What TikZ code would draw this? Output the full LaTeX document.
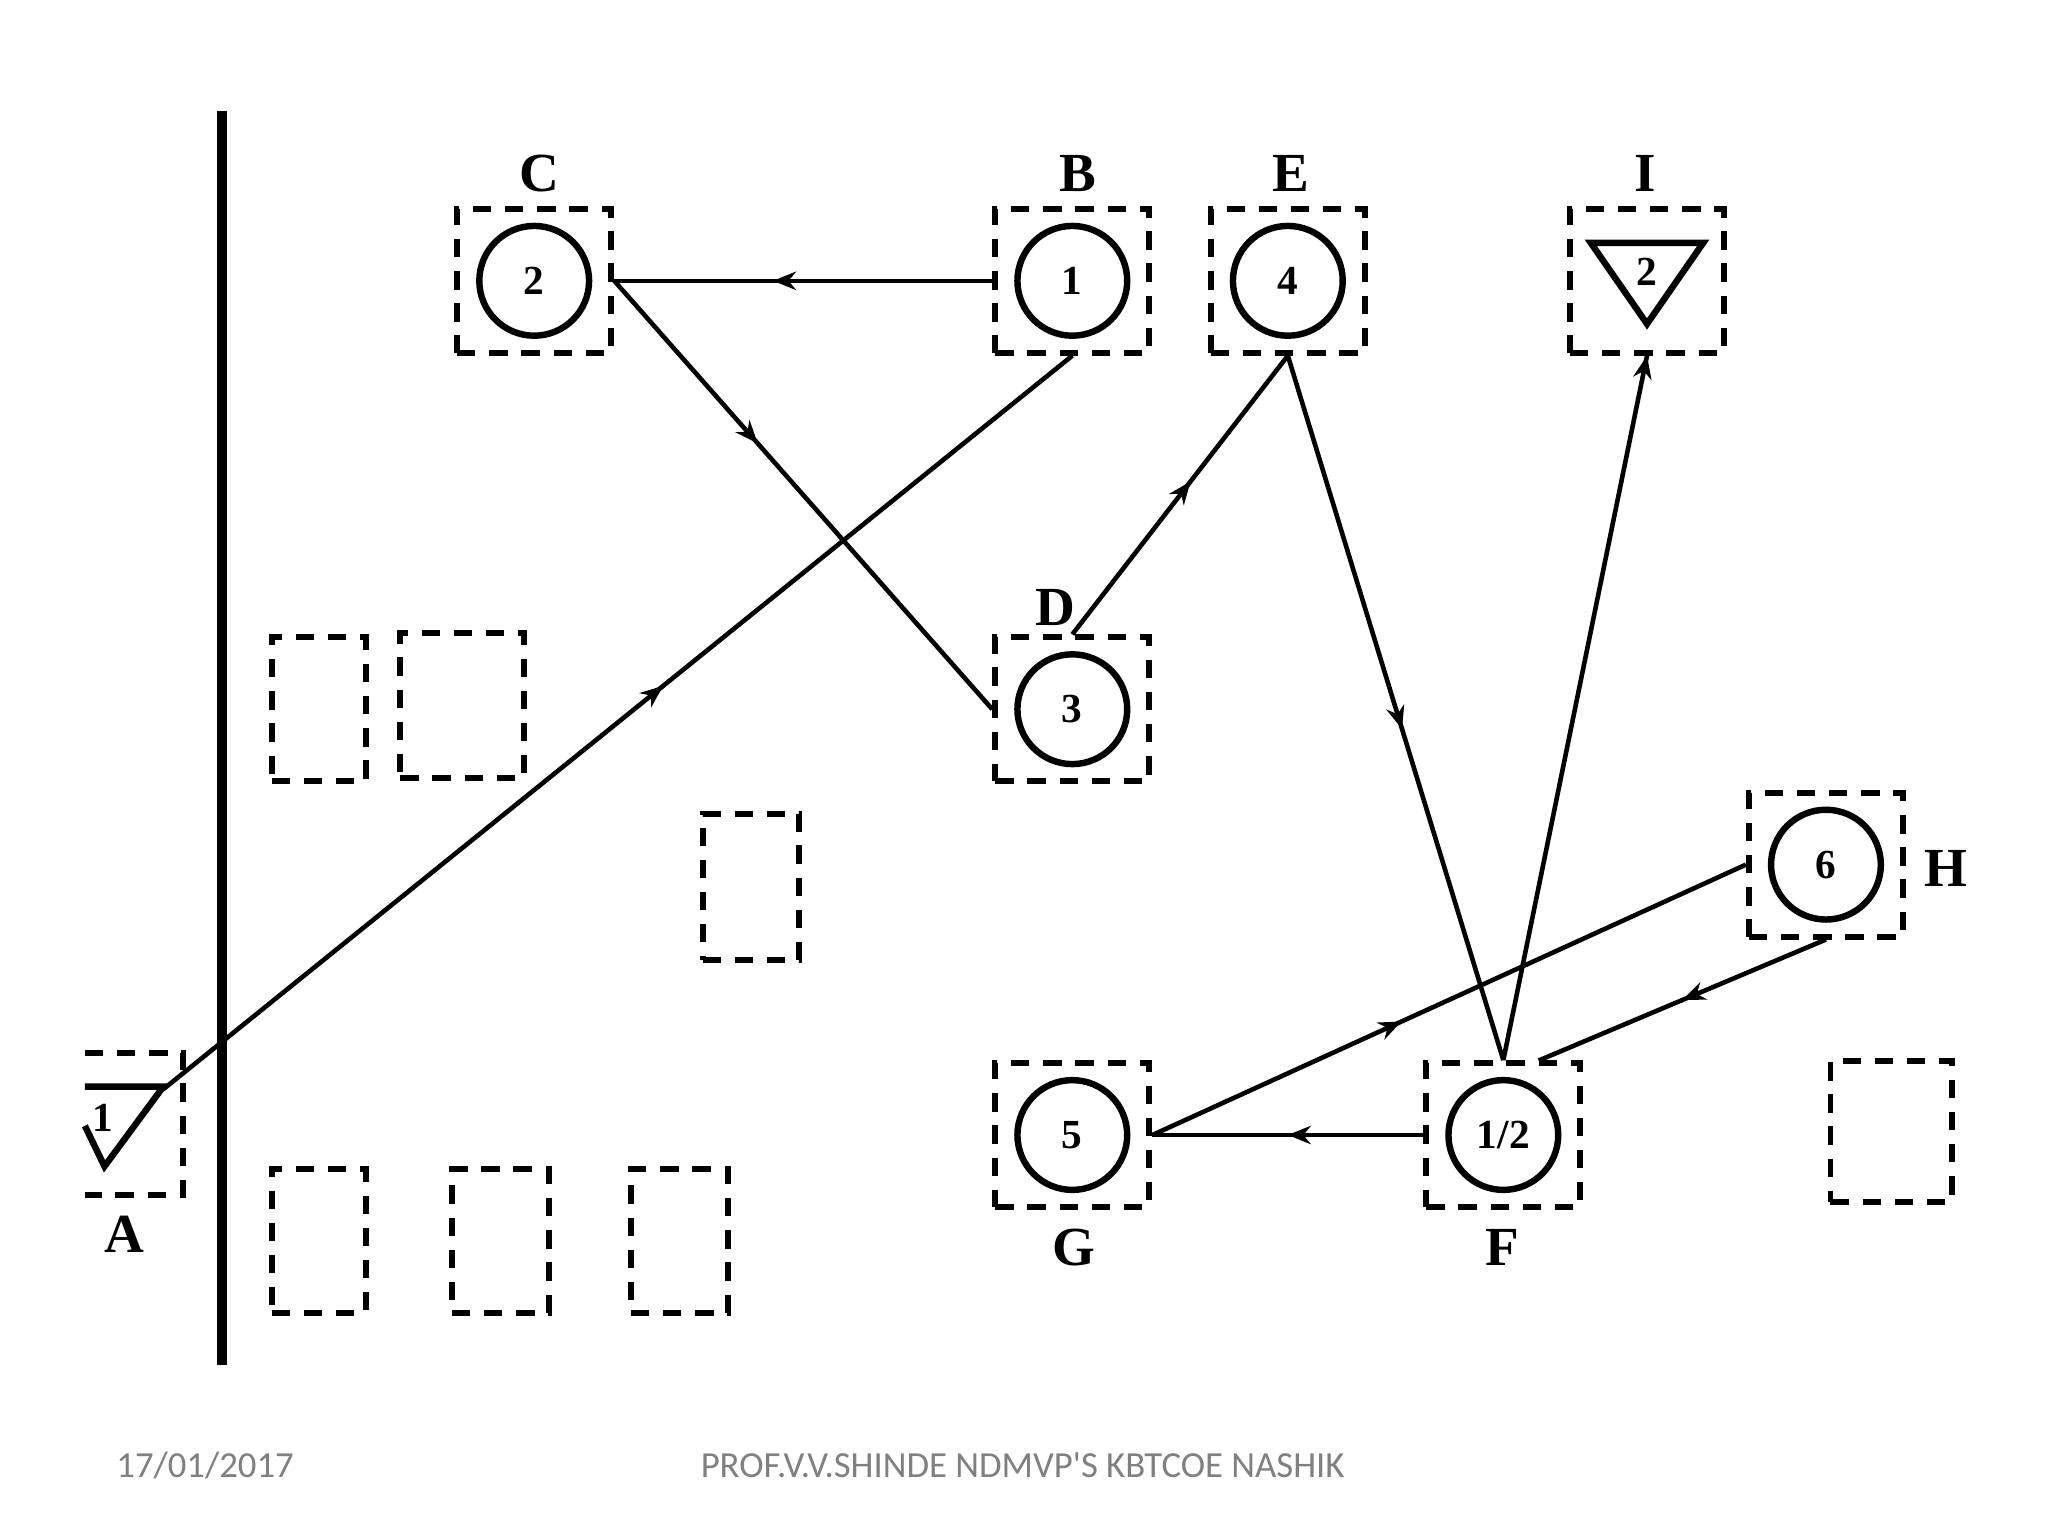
\documentclass[tikz,border=0pt]{standalone}
\usepackage{fontspec}
\setmainfont{Liberation Serif}
\newfontfamily\footfont{Carlito}
\usetikzlibrary{arrows.meta,positioning,decorations.markings,calc}

\begin{document}
\begin{tikzpicture}[
    x=0.01cm, y=-0.01cm,
    station/.style={rectangle, draw, dashed, line width=1.3pt, dash pattern=on 4pt off 3pt, minimum width=1.18cm, minimum height=1.1cm, inner sep=0pt},
    empty/.style={rectangle, draw, line width=1.3pt, dash pattern=on 4pt off 3pt, inner sep=0pt},
    op/.style={circle, draw, line width=1.4pt, minimum size=0.84cm, inner sep=0pt, font=\bfseries\small},
    tag/.style={font=\bfseries\large},
    flow/.style={line width=1pt, postaction={decorate}, decoration={markings, mark=at position #1 with {\arrow{Stealth[length=5pt,width=4pt]}}}},
    foot/.style={font=\footfont\fontsize{8}{9}\selectfont, text=gray}
]
\useasboundingbox (0,0) rectangle (1568,1176);

% Wall
\draw[line width=2pt] (170,85) -- (170,1045);

% Stations
\node[station] (bC) at (409,215) {};
\node[station] (bB) at (821,215) {};
\node[station] (bE) at (986,215) {};
\node[station] (bI) at (1261,215) {};
\node[station] (bD) at (821,543) {};
\node[station] (bH) at (1398,662) {};
\node[station] (bG) at (821,869) {};
\node[station] (bF) at (1151,869) {};

% Operations
\node[op] (cC) at (bC) {2};
\node[op] (cB) at (bB) {1};
\node[op] (cE) at (bE) {4};
\node[op] (cD) at (bD) {3};
\node[op] (cH) at (bH) {6};
\node[op] (cG) at (bG) {5};
\node[op] (cF) at (bF) {1/2};
\draw[line width=1.4pt] (1218,186) -- (1304,186) -- (1261,248) -- cycle;
\node[font=\bfseries\small] (sI) at (1261,208) {2};

% Receiving (A)
\draw[line width=1.3pt, dash pattern=on 4pt off 3pt] (65,806) -- (140,806) -- (140,915) -- (65,915);
\draw[line width=1.4pt] (65,832) -- (125,832) -- (80,893) -- (65,862);
\node[font=\bfseries\small] (sA) at (79,856) {1};
\coordinate (aTip) at (125,834);

% Labels
\node[tag] (lC) at (413,133) {C};
\node[tag] (lB) at (825,133) {B};
\node[tag] (lE) at (988,133) {E};
\node[tag] (lI) at (1260,133) {I};
\node[tag] (lD) at (808,465) {D};
\node[tag] (lH) at (1490,665) {H};
\node[tag] (lG) at (822,955) {G};
\node[tag] (lF) at (1150,955) {F};
\node[tag] (lA) at (95,945) {A};

% Empty stations
\node[empty, minimum width=0.72cm, minimum height=1.1cm] (e1) at (244,543) {};
\node[empty, minimum width=0.95cm, minimum height=1.11cm] (e2) at (354,540) {};
\node[empty, minimum width=0.74cm, minimum height=1.12cm] (e3) at (575,679) {};
\node[empty, minimum width=0.72cm, minimum height=1.1cm] (e4) at (244,950) {};
\node[empty, minimum width=0.74cm, minimum height=1.1cm] (e5) at (383,950) {};
\node[empty, minimum width=0.74cm, minimum height=1.1cm] (e6) at (520,950) {};
\node[empty, minimum width=0.93cm, minimum height=1.08cm] (e7) at (1448,866) {};

% Flow
\coordinate (fH) at (1178,812);
\draw[flow=0.58] (bB.west) -- (bC.east);
\draw[flow=0.38] (bC.east) -- (bD.west);
\draw[flow=0.55] (aTip) -- (bB.south);
\draw[flow=0.55] (bD.north) -- (bE.south);
\draw[flow=0.53] (bE.south) -- (bF.north);
\draw[flow=1] (bF.north) -- (bI.south);
\draw[flow=0.42] (bG.east) -- (bH.west);
\draw[flow=0.5] (bH.south) -- (fH);
\draw[flow=0.5] (bF.west) -- (bG.east);

% Footer
\node[foot] (date) at (157,1122) {17/01/2017};
\node[foot] (author) at (783,1122) {PROF.V.V.SHINDE NDMVP'S KBTCOE NASHIK};
\end{tikzpicture}
\end{document}
